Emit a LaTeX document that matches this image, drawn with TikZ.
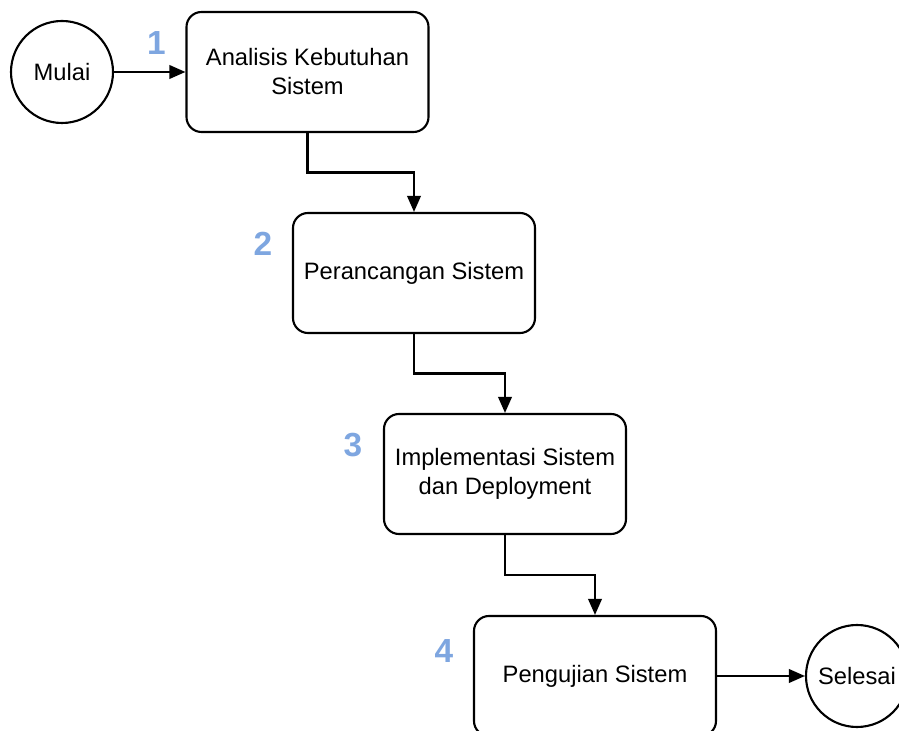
\documentclass[tikz,border=0pt]{standalone}
\usepackage{fontspec}
\setmainfont{Liberation Sans}
\usepackage{tikz}
\usetikzlibrary{calc,arrows.meta}
\definecolor{numblue}{RGB}{126,166,224}

\begin{document}
\begin{tikzpicture}[node distance=4.02cm, line width=1.2pt,
  block/.style={draw, rounded corners=0.3cm, minimum width=4.84cm, minimum height=2.4cm, align=center, font=\fontsize{13.5}{16.5}\selectfont},
  terminal/.style={draw, circle, minimum size=2.04cm, inner sep=0pt, font=\fontsize{13.5}{16.5}\selectfont},
  stepnum/.style={text=numblue, font=\fontsize{19}{22}\selectfont\bfseries},
  flow/.style={-{Triangle[length=0.32cm, width=0.27cm]}}]

  \useasboundingbox (0,0) rectangle (17.98,-14.62);

  % Steps
  \node[block] (B1) at (6.15,-1.44) {Analisis Kebutuhan\\Sistem};
  \node[block, below of=B1, xshift=2.13cm] (B2) {Perancangan Sistem};
  \node[block, below of=B2, xshift=1.82cm] (B3) {Implementasi Sistem\\dan Deployment};
  \node[block, below of=B3, xshift=1.80cm, yshift=-0.02cm] (B4) {Pengujian Sistem};

  % Start and end
  \node[terminal, left of=B1, node distance=4.91cm] (S) {Mulai};
  \node[terminal, right of=B4, node distance=5.24cm] (E) {Selesai};

  % Numbers
  \node[stepnum] (N1) at ($(B1.north west)+(-0.58,-0.64)$) {1};
  \node[stepnum] (N2) at ($(B2.north west)+(-0.58,-0.64)$) {2};
  \node[stepnum] (N3) at ($(B3.north west)+(-0.6,-0.64)$) {3};
  \node[stepnum] (N4) at ($(B4.north west)+(-0.58,-0.72)$) {4};

  % Arrows
  \draw[flow] (S.east) -- (B1.west);
  \draw[flow] (B1.south) |- ($(B1.south)!0.5!(B2.north)$) -| (B2.north);
  \draw[flow] (B2.south) |- ($(B2.south)!0.5!(B3.north)$) -| (B3.north);
  \draw[flow] (B3.south) |- ($(B3.south)!0.5!(B4.north)$) -| (B4.north);
  \draw[flow] (B4.east) -- (E.west);

\end{tikzpicture}
\end{document}
